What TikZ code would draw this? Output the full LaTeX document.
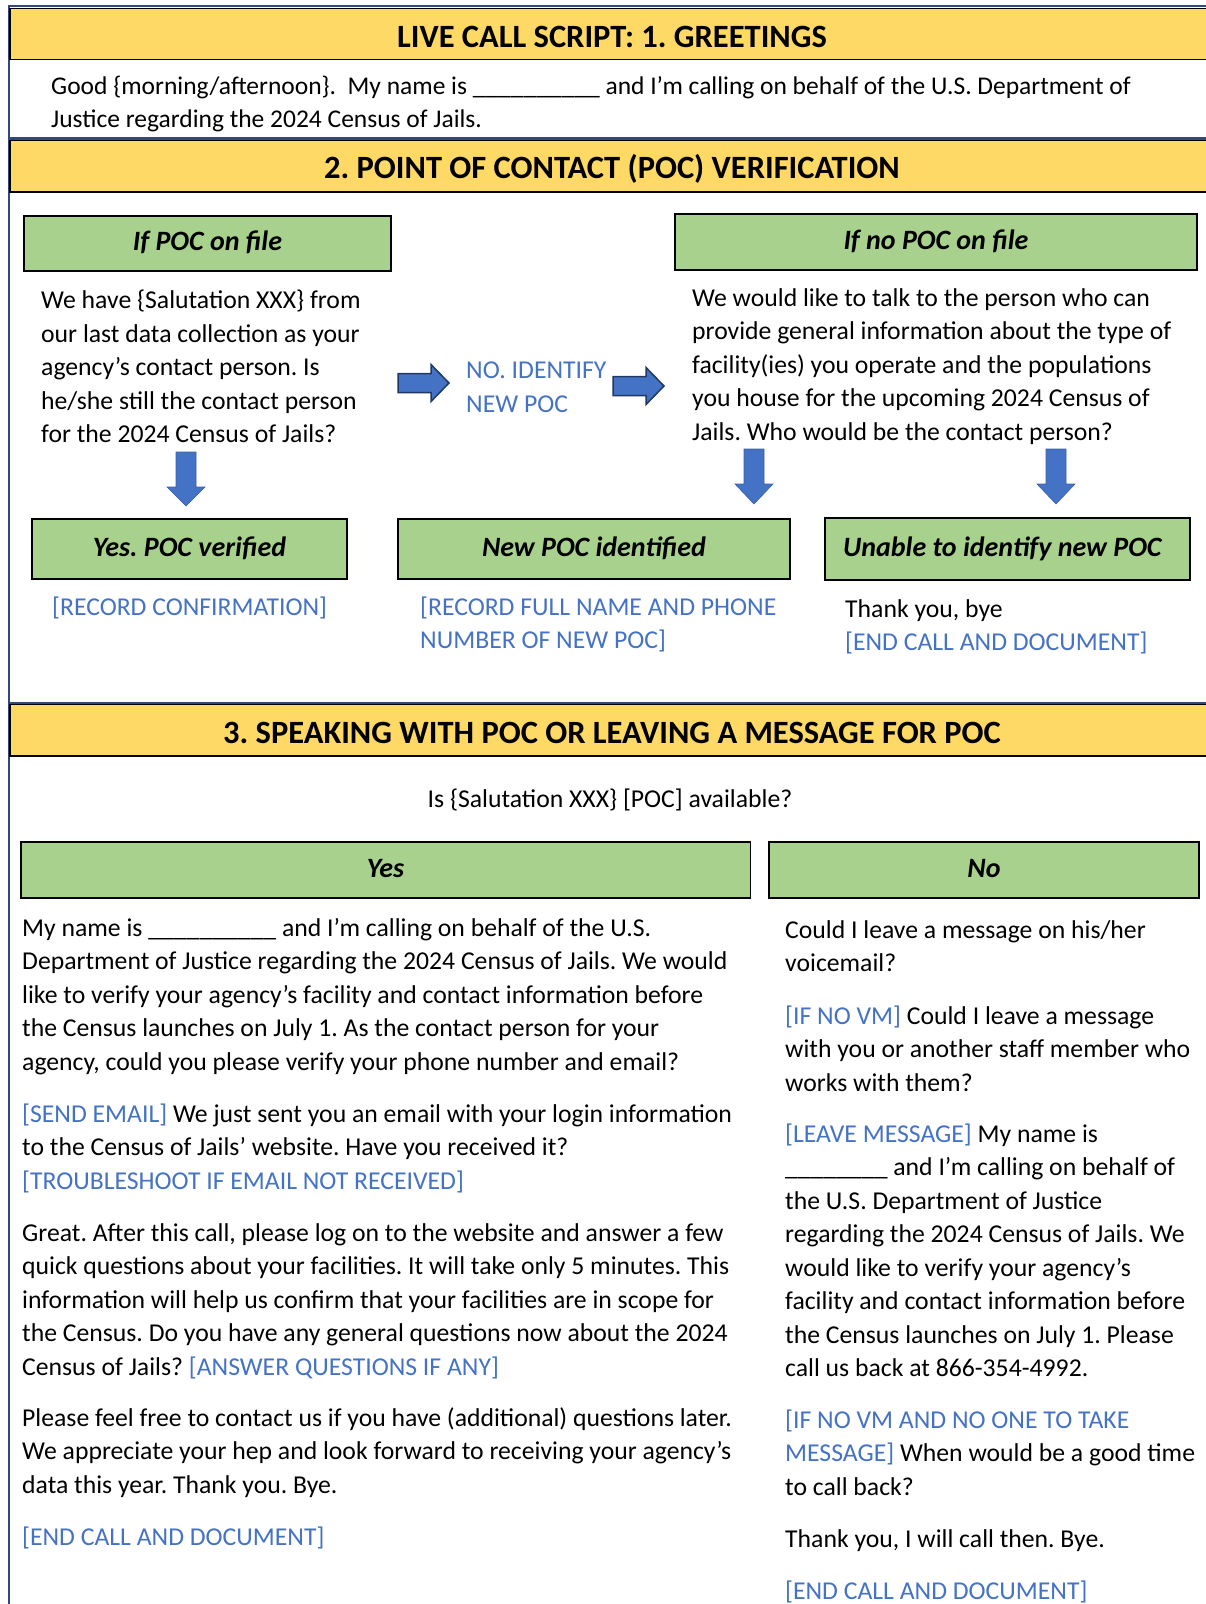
\documentclass[tikz,border=0pt]{standalone}
\usepackage{fontspec}
\setmainfont{Carlito}
\definecolor{yel}{HTML}{FFD966}
\definecolor{grn}{HTML}{A9D18E}
\definecolor{blu}{HTML}{4472C4}
\definecolor{navy}{HTML}{2F4A7A}
\definecolor{arrline}{HTML}{203864}
\newcommand\hstr{\rule{0pt}{22pt}}
\frenchspacing
\begin{document}
\begin{tikzpicture}[x=1pt,y=-1pt,
  yband/.style={fill=yel, draw=black, line width=1.2pt},
  secframe/.style={draw=navy, line width=2pt},
  bandtitle/.style={anchor=base, inner sep=0, font=\fontsize{32.5}{38}\selectfont\bfseries},
  gbox/.style={draw=black, line width=1.5pt, fill=grn, inner sep=0,
    font=\fontsize{28}{34}\selectfont\bfseries\itshape, text height=18pt, text depth=3.5pt},
  txt/.style={anchor=north west, inner sep=0, align=left, font=\fontsize{25.7}{33.5}\selectfont},
  ctxt/.style={anchor=base, inner sep=0, font=\fontsize{25.7}{33.5}\selectfont},
  rarrow/.style={fill=blu, draw=arrline, line width=1.5pt, line join=miter},
  darrow/.style={fill=blu, draw=blu!85!black, line width=0.6pt},
]
\useasboundingbox (0,0) rectangle (1206,1604);
\clip (0,0) rectangle (1206,1604);
\fill[white] (0,0) rectangle (1206,1604);

% section frames and bands
\draw[secframe] (9,6) rectangle (1240,137.5);
\draw[yband] (10,8.5) rectangle (1240,59.5);
\draw[secframe] (9,139) rectangle (1240,703);
\draw[yband] (10,140.5) rectangle (1240,192);
\draw[secframe] (9,703) rectangle (1240,1650);
\draw[yband] (10,704.5) rectangle (1240,756);

% section 1
\node[bandtitle] (t1) at (612,47) {LIVE CALL SCRIPT: 1. GREETINGS};
\node[txt, font=\fontsize{25.5}{33.5}\selectfont] (greet) at (51,72) {\hstr Good \{morning/afternoon\}.\ \ My name is \_\_\_\_\_\_\_\_\_\_ and I’m calling on behalf of the U.S. Department of\\Justice regarding the 2024 Census of Jails.};

% section 2
\node[bandtitle] (t2) at (612,178.5) {2. POINT OF CONTACT (POC) VERIFICATION};
\node[gbox, minimum width=367, minimum height=55] (ifpoc) at (207.5,243.5) {If POC on file};
\node[gbox, minimum width=522, minimum height=56] (ifnopoc) at (936,242) {If no POC on file};
\node[txt] (askpoc) at (41,286.5) {\hstr We have \{Salutation XXX\} from\\our last data collection as your\\agency’s contact person. Is\\he/she still the contact person\\for the 2024 Census of Jails?};
\node[txt, text=blu] (noident) at (466,356.5) {\hstr NO. IDENTIFY\\NEW POC};
\node[txt] (talkto) at (692,284) {\hstr We would like to talk to the person who can\\provide general information about the type of\\facility(ies) you operate and the populations\\you house for the upcoming 2024 Census of\\Jails. Who would be the contact person?};

% block arrows
\draw[rarrow, shift={(398,383)}] (0,-9.5) -- (33,-9.5) -- (33,-18.5) -- (51,0) -- (33,18.5) -- (33,9.5) -- (0,9.5) -- cycle;
\draw[rarrow, shift={(613,386)}] (0,-9.5) -- (33,-9.5) -- (33,-18.5) -- (51,0) -- (33,18.5) -- (33,9.5) -- (0,9.5) -- cycle;
\draw[darrow, shift={(186,452)}] (-10,0) -- (-10,35) -- (-19,35) -- (0,54) -- (19,35) -- (10,35) -- (10,0) -- cycle;
\draw[darrow, shift={(754,449)}] (-10,0) -- (-10,35) -- (-19,35) -- (0,55) -- (19,35) -- (10,35) -- (10,0) -- cycle;
\draw[darrow, shift={(1056,449)}] (-10,0) -- (-10,35) -- (-19,35) -- (0,55) -- (19,35) -- (10,35) -- (10,0) -- cycle;

\node[gbox, minimum width=315, minimum height=60] (yesver) at (189.5,549) {Yes. POC verified};
\node[gbox, minimum width=392, minimum height=60] (newpoc) at (594,549) {New POC identified};
\node[gbox, minimum width=365, minimum height=62, inner xsep=18pt] (unable) at (1007.5,549) {\makebox[329pt][l]{Unable to identify new POC}};

\node[txt, text=blu] (recconf) at (52,593) {\hstr [RECORD CONFIRMATION]};
\node[txt, text=blu] (recfull) at (420,593) {\hstr [RECORD FULL NAME AND PHONE\\NUMBER OF NEW POC]};
\node[txt] (thanks) at (845,595) {\hstr Thank you, bye\\{\color{blu}[END CALL AND DOCUMENT]}};

% section 3
\node[bandtitle] (t3) at (612,743) {3. SPEAKING WITH POC OR LEAVING A MESSAGE FOR POC};
\node[ctxt] (avail) at (610,807) {Is \{Salutation XXX\} [POC] available?};
\node[gbox, minimum width=729.5, minimum height=56] (yes) at (385.5,870) {Yes};
\node[gbox, minimum width=430, minimum height=56] (no) at (984,870) {No};

% left column
\node[txt] (lp1) at (22,914) {\hstr My name is \_\_\_\_\_\_\_\_\_\_ and I’m calling on behalf of the U.S.\\Department of Justice regarding the 2024 Census of Jails. We would\\like to verify your agency’s facility and contact information before\\the Census launches on July 1. As the contact person for your\\agency, could you please verify your phone number and email?};
\node[txt] (lp2) at (22,1100) {\hstr {\color{blu}[SEND EMAIL]} We just sent you an email with your login information\\to the Census of Jails’ website. Have you received it?\\{\color{blu}[TROUBLESHOOT IF EMAIL NOT RECEIVED]}};
\node[txt] (lp3) at (22,1219) {\hstr Great. After this call, please log on to the website and answer a few\\quick questions about your facilities. It will take only 5 minutes. This\\information will help us confirm that your facilities are in scope for\\the Census. Do you have any general questions now about the 2024\\Census of Jails? {\color{blu}[ANSWER QUESTIONS IF ANY]}};
\node[txt] (lp4) at (22,1404) {\hstr Please feel free to contact us if you have (additional) questions later.\\We appreciate your hep and look forward to receiving your agency’s\\data this year. Thank you. Bye.};
\node[txt, text=blu] (lp5) at (22,1523) {\hstr [END CALL AND DOCUMENT]};

% right column
\node[txt] (rp1) at (785,916) {\hstr Could I leave a message on his/her\\voicemail?};
\node[txt] (rp2) at (785,1002) {\hstr {\color{blu}[IF NO VM]} Could I leave a message\\with you or another staff member who\\works with them?};
\node[txt] (rp3) at (785,1120) {\hstr {\color{blu}[LEAVE MESSAGE]} My name is\\\_\_\_\_\_\_\_\_ and I’m calling on behalf of\\the U.S. Department of Justice\\regarding the 2024 Census of Jails. We\\would like to verify your agency’s\\facility and contact information before\\the Census launches on July 1. Please\\call us back at 866-354-4992.};
\node[txt] (rp4) at (785,1406) {\hstr {\color{blu}[IF NO VM AND NO ONE TO TAKE}\\{\color{blu}MESSAGE]} When would be a good time\\to call back?};
\node[txt] (rp5) at (785,1525.5) {\hstr Thank you, I will call then. Bye.};
\node[txt, text=blu] (rp6) at (785,1577.5) {\hstr [END CALL AND DOCUMENT]};
\end{tikzpicture}
\end{document}
